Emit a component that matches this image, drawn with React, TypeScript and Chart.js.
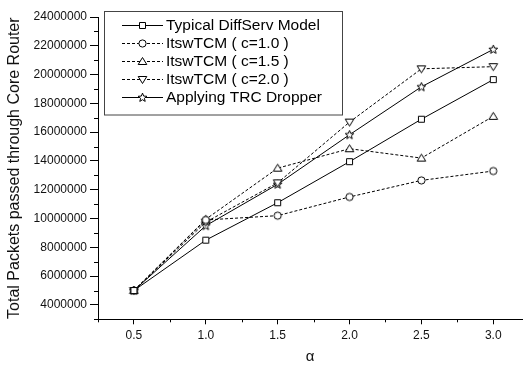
import React, { useEffect, useRef } from "react";
import { Chart, registerables } from "chart.js";

Chart.register(...registerables);

const alphaValues = [0.5, 1.0, 1.5, 2.0, 2.5, 3.0];
const typicalDiffServ = [5000000, 8500000, 11100000, 13950000, 16900000, 19650000];
const itswC10 = [5000000, 9900000, 10200000, 11500000, 12650000, 13300000];
const itswC15 = [5000000, 9950000, 13500000, 14850000, 14200000, 17100000];
const itswC20 = [5000000, 9750000, 12480000, 16700000, 20400000, 20550000];
const trcDropper = [5000000, 9500000, 12380000, 15820000, 19150000, 21750000];

const seriesLabels = [
  "Typical DiffServ Model",
  "ItswTCM ( c=1.0 )",
  "ItswTCM ( c=1.5 )",
  "ItswTCM ( c=2.0 )",
  "Applying TRC Dropper",
];
const xTickValues = [0.5, 1.0, 1.5, 2.0, 2.5, 3.0];
const xMinorTicks = [0.25, 0.75, 1.25, 1.75, 2.25, 2.75];
const yTickValues = [4000000, 6000000, 8000000, 10000000, 12000000, 14000000, 16000000, 18000000, 20000000, 22000000, 24000000];
const yMinorTicks = [3000000, 5000000, 7000000, 9000000, 11000000, 13000000, 15000000, 17000000, 19000000, 21000000, 23000000];

type Shape = "square" | "circle" | "triUp" | "triDown" | "star";

function makeMarker(shape: Shape): HTMLCanvasElement {
  const c = document.createElement("canvas");
  c.width = 11;
  c.height = 11;
  const ctx = c.getContext("2d")!;
  ctx.fillStyle = "#ffffff";
  ctx.strokeStyle = "#000000";
  ctx.lineWidth = 1;
  ctx.beginPath();
  if (shape === "square") {
    ctx.rect(2.5, 2.5, 6, 6);
  } else if (shape === "circle") {
    ctx.arc(5.5, 5.5, 3.6, 0, Math.PI * 2);
  } else if (shape === "triUp") {
    ctx.moveTo(5.5, 1.5);
    ctx.lineTo(9.8, 8.5);
    ctx.lineTo(1.2, 8.5);
    ctx.closePath();
  } else if (shape === "triDown") {
    ctx.moveTo(1.2, 2.5);
    ctx.lineTo(9.8, 2.5);
    ctx.lineTo(5.5, 9.5);
    ctx.closePath();
  } else {
    for (let i = 0; i < 10; i++) {
      const r = i % 2 === 0 ? 4.6 : 2.0;
      const a = -Math.PI / 2 + (i * Math.PI) / 5;
      const px = 5.5 + r * Math.cos(a);
      const py = 5.7 + r * Math.sin(a);
      if (i === 0) ctx.moveTo(px, py);
      else ctx.lineTo(px, py);
    }
    ctx.closePath();
  }
  ctx.fill();
  ctx.stroke();
  return c;
}

export default function App() {
  const ref = useRef<HTMLCanvasElement | null>(null);

  useEffect(() => {
    if (!ref.current) return;
    const markers = {
      square: makeMarker("square"),
      circle: makeMarker("circle"),
      triUp: makeMarker("triUp"),
      triDown: makeMarker("triDown"),
      star: makeMarker("star"),
    };
    const seriesData = [typicalDiffServ, itswC10, itswC15, itswC20, trcDropper];
    const seriesMarkers = [markers.square, markers.circle, markers.triUp, markers.triDown, markers.star];
    const seriesDash = [[], [3, 2], [3, 2], [3, 2], []];

    const datasets = seriesData.map((vals, i) => ({
      label: seriesLabels[i],
      data: vals.map((v, j) => ({ x: alphaValues[j], y: v })),
      borderColor: "#000000",
      borderWidth: 1,
      borderDash: seriesDash[i],
      backgroundColor: "#ffffff",
      pointStyle: seriesMarkers[i],
      pointRadius: 4,
      tension: 0,
      fill: false,
    }));

    const extrasPlugin = {
      id: "extras",
      afterDraw(chart: any) {
        const ctx = chart.ctx;
        const xs = chart.scales.x;
        const ys = chart.scales.y;
        const area = chart.chartArea;
        ctx.save();
        ctx.strokeStyle = "#000000";
        ctx.lineWidth = 1;
        ctx.setLineDash([]);
        // minor ticks
        ctx.beginPath();
        yMinorTicks.forEach((v) => {
          const py = Math.round(ys.getPixelForValue(v)) + 0.5;
          ctx.moveTo(area.left - 4, py);
          ctx.lineTo(area.left, py);
        });
        xMinorTicks.forEach((v) => {
          const px = Math.round(xs.getPixelForValue(v)) + 0.5;
          ctx.moveTo(px, area.bottom);
          ctx.lineTo(px, area.bottom + 3);
        });
        ctx.stroke();

        // legend
        const bx = 104.5, by = 11.5, bw = 238, bh = 103.5;
        ctx.fillStyle = "#ffffff";
        ctx.fillRect(bx, by, bw, bh);
        ctx.strokeStyle = "#444444";
        ctx.strokeRect(bx, by, bw, bh);
        ctx.font = "15.5px 'Liberation Sans', Arial, sans-serif";
        ctx.textBaseline = "middle";
        ctx.textAlign = "left";
        chart.data.datasets.forEach((ds: any, i: number) => {
          const ry = Math.round(25 + i * 17.9) + 0.5;
          ctx.strokeStyle = "#000000";
          ctx.setLineDash(ds.borderDash || []);
          ctx.beginPath();
          ctx.moveTo(122, ry);
          ctx.lineTo(163, ry);
          ctx.stroke();
          ctx.setLineDash([]);
          const img = ds.pointStyle as HTMLCanvasElement;
          ctx.drawImage(img, 142.5 - img.width / 2, ry - img.height / 2);
          ctx.fillStyle = "#000000";
          ctx.fillText(ds.label, 166, ry + 0.5);
        });
        ctx.restore();
      },
    };

    const chart = new Chart(ref.current, {
      type: "line",
      data: { datasets: datasets as any },
      plugins: [extrasPlugin],
      options: {
        animation: false,
        responsive: false,
        maintainAspectRatio: false,
        layout: { autoPadding: false, padding: { top: 17, right: 1, left: 0, bottom: 0 } },
        plugins: {
          legend: { display: false },
          tooltip: { enabled: false },
        },
        scales: {
          x: {
            type: "linear",
            min: 0.25,
            max: 3.2,
            afterBuildTicks: (scale: any) => {
              scale.ticks = xTickValues.map((v) => ({ value: v }));
            },
            afterFit: (scale: any) => {
              scale.height = 46.7;
              scale.paddingRight = 0;
              scale.paddingLeft = 0;
            },
            grid: {
              drawOnChartArea: false,
              drawTicks: true,
              tickLength: 5,
              color: "#000000",
              tickColor: "#000000",
            },
            border: { display: true, color: "#000000", width: 1 },
            ticks: {
              color: "#111111",
              padding: 4,
              maxRotation: 0,
              autoSkip: false,
              font: { family: "'Liberation Sans', Arial, sans-serif", size: 12 },
              callback: (v: any) => Number(v).toFixed(1),
            },
            title: {
              display: true,
              text: "α",
              color: "#111111",
              padding: { top: 0, bottom: 0 },
              font: { family: "'Liberation Sans', Arial, sans-serif", size: 15 },
            },
          },
          y: {
            type: "linear",
            min: 3000000,
            max: 24000000,
            afterBuildTicks: (scale: any) => {
              scale.ticks = yTickValues.map((v) => ({ value: v }));
            },
            afterFit: (scale: any) => {
              scale.width = 98;
            },
            grid: {
              drawOnChartArea: false,
              drawTicks: true,
              tickLength: 8,
              color: "#000000",
              tickColor: "#000000",
            },
            border: { display: true, color: "#000000", width: 1 },
            ticks: {
              color: "#111111",
              padding: 3,
              autoSkip: false,
              font: { family: "'Liberation Sans', Arial, sans-serif", size: 12 },
              callback: (v: any) => String(v),
            },
            title: {
              display: true,
              text: "Total Packets passed through Core Router",
              color: "#111111",
              padding: { top: 5, bottom: 0 },
              font: { family: "'Liberation Sans', Arial, sans-serif", size: 16 },
            },
          },
        },
      },
    });
    return () => chart.destroy();
  }, []);

  return (
    <div style={{ position: "fixed", left: 0, top: 0, width: 523, height: 366, background: "#ffffff" }}>
      <canvas ref={ref} width={523} height={366} style={{ display: "block" }} />
    </div>
  );
}
